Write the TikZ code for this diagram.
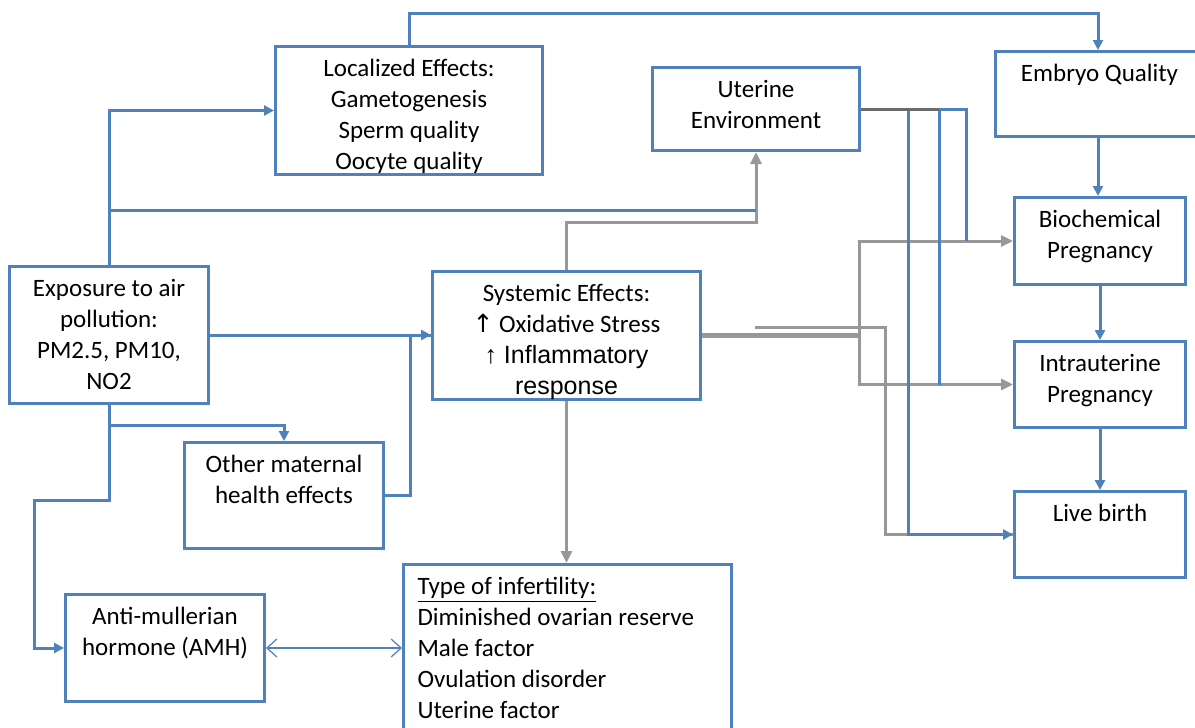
\documentclass[tikz,border=0pt]{standalone}
\usepackage{fontspec}
\setmainfont{Carlito}
\newfontfamily\arialf{Liberation Sans}
\newfontfamily\symf{DejaVu Sans}
\usepackage{tikz}
\usetikzlibrary{arrows.meta}
\definecolor{accent}{RGB}{79,129,189}
\definecolor{shade}{RGB}{152,152,152}
\newcommand{\boxtext}[2]{\parbox[t]{#1}{\centering #2}}

\begin{document}
\begin{tikzpicture}[x=0.5pt, y=-0.5pt,
  every node/.style={font=\fontsize{12.5}{15.5}\selectfont},
  box/.style={draw=accent, line width=1.5pt, inner sep=0pt, anchor=north west, text height=15pt},
  bl/.style={draw=accent, line width=1.5pt},
  gr/.style={draw=shade, line width=1.5pt},
  bhead/.style={-{Triangle[length=5pt,width=5pt]}},
  ghead/.style={-{Triangle[length=6pt,width=5.5pt]}}]
\useasboundingbox (0,0) rectangle (1195,728);
\fill[white] (0,0) rectangle (1195,728);
\clip (0,0) rectangle (1195,728);

% boxes
\node[box, minimum width=133.5pt, text depth=49pt] (loc) at (274,45)
  {\boxtext{133.5pt}{Localized Effects:\\Gametogenesis\\Sperm quality\\Oocyte quality}};
\node[box, minimum width=103.5pt, text depth=26.5pt] (ute) at (651,66)
  {\boxtext{103.5pt}{Uterine\\Environment}};
\node[box, minimum width=124pt, text depth=27.5pt] (emb) at (994,50)
  {\boxtext{104pt}{Embryo Quality}\hspace*{20pt}};
\node[box, minimum width=85.5pt, text depth=28.5pt] (bio) at (1013,196)
  {\boxtext{85.5pt}{Biochemical\\Pregnancy}};
\node[box, minimum width=85.5pt, text depth=28pt] (int) at (1013,340)
  {\boxtext{85.5pt}{Intrauterine\\Pregnancy}};
\node[box, minimum width=85.5pt, text depth=28pt] (liv) at (1013,490)
  {\boxtext{85.5pt}{Live birth}};
\node[box, minimum width=99.5pt, text depth=53.5pt] (exp) at (8,265)
  {\boxtext{99.5pt}{Exposure to air\\pollution:\\PM2.5, PM10,\\NO2}};
\node[box, minimum width=134pt, text depth=49pt] (sys) at (431,270)
  {\boxtext{134pt}{Systemic Effects:\\{\symf ↑} Oxidative Stress\\{\arialf ↑ Inflammatory}\\{\arialf response}}};
\node[box, minimum width=99.5pt, text depth=38pt] (oth) at (183,441)
  {\boxtext{99.5pt}{Other maternal\\health effects}};
\node[box, minimum width=99.5pt, text depth=38.5pt] (amh) at (64,593)
  {\boxtext{99.5pt}{Anti-mullerian\\hormone (AMH)}};
\node[box, minimum width=164pt, text depth=85pt] (typ) at (402,563)
  {\parbox[t]{164pt}{\raggedright\leftskip=7pt \underline{Type of infertility:}\\Diminished ovarian reserve\\Male factor\\Ovulation disorder\\Uterine factor}};

% junction points
\path (ute.south) ++(0,58) coordinate (uj);
\path (sys.east) ++(157,0) coordinate (sj);
\path (sys.east) ++(53,-8) coordinate (gs);
\path (ute.east) ++(47,0) coordinate (u1) ++(31,0) coordinate (u2) ++(27,0) coordinate (u3);
\path (emb.north west) ++(104,0) coordinate (et);
\path (emb.south west) ++(104,0) coordinate (eb);

% grey connectors
\draw[gr, ghead] (sys.north) -- ++(0,-48) -| (ute.south);
\draw[gr, ghead] (sys.south) -- (sys.south |- typ.north);
\draw[gr, line width=2.5pt] (sys.east) -- (sj);
\draw[gr, ghead] (sj) |- (bio.west);
\draw[gr, ghead] (sj) |- (int.west);
\draw[gr] (gs) -- ++(130,0) |- (liv.west);

% blue connectors
\draw[bl, bhead] (loc.north) -- ++(0,-32) -| (et);
\draw[bl, bhead] (eb) -- (eb |- bio.north);
\draw[bl, bhead] (bio.south) -- (bio.south |- int.north);
\draw[bl, bhead] (int.south) -- (int.south |- liv.north);
\draw[bl, bhead] (exp.north) |- (loc.west);
\draw[bl] (exp.north |- uj) -- (uj);
\draw[bl, bhead] (exp.east) -- (exp.east -| sys.west);
\draw[bl] (oth.east) -- ++(25,0) |- (sys.west);
\draw[bl, bhead] (exp.south) -- ++(0,20) -| (oth.north);
\draw[bl, bhead] (exp.south) -- ++(0,95) -- ++(-75,0) |- (amh.west);
\draw[accent, line width=0.6pt, {Straight Barb[length=5pt,width=9pt]}-{Straight Barb[length=5pt,width=9pt]}]
  (amh.east) -- (amh.east -| typ.west);
\draw[bl] (ute.east) -- (u3) -- (u3 |- bio.west);
\draw[bl] (u2) -- (u2 |- int.west);
\draw[bl, bhead] (u1) |- (liv.west);
\draw[shade!70!black, line width=1.5pt] (ute.east) -- (u2);
\end{tikzpicture}
\end{document}
